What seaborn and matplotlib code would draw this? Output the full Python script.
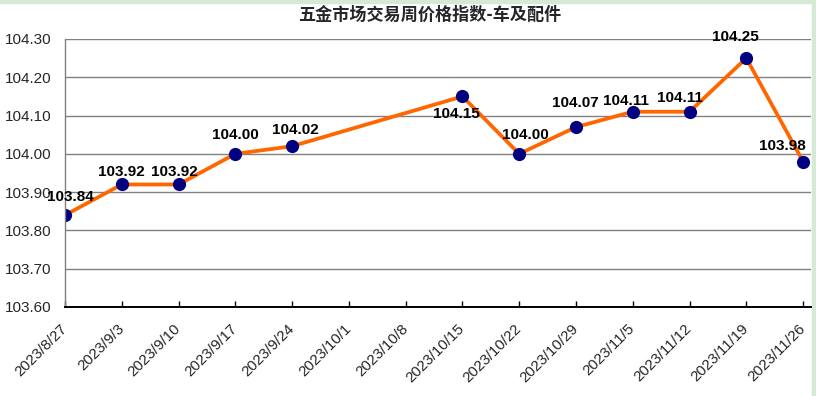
import numpy as np
import pandas as pd
import matplotlib
matplotlib.use('Agg')
import matplotlib.pyplot as plt
import matplotlib.transforms as mtransforms
from matplotlib.patches import Rectangle
import seaborn as sns

# --- data ---
title = '五金市场交易周价格指数-车及配件'
dates = ['2023/8/27', '2023/9/3', '2023/9/10', '2023/9/17', '2023/9/24',
         '2023/10/1', '2023/10/8', '2023/10/15', '2023/10/22', '2023/10/29',
         '2023/11/5', '2023/11/12', '2023/11/19', '2023/11/26']
values = [103.84, 103.92, 103.92, 104.00, 104.02, np.nan, np.nan,
          104.15, 104.00, 104.07, 104.11, 104.11, 104.25, 103.98]
y_ticks = [103.60, 103.70, 103.80, 103.90, 104.00, 104.10, 104.20, 104.30]

# label offsets (pixels) for each value label
label_offsets = [(5, 18), (0, 12), (-4, 12), (0, 19), (3, 16), None, None,
                 (-6, -18), (6, 19), (-1, 24), (-7, 11), (-10, 14), (-11, 21), (-21, 16)]

df = pd.DataFrame({'pos': np.arange(len(dates)), 'date': dates, 'value': values})

sns.set_style('white')
plt.rcParams['font.family'] = ['Liberation Sans', 'Noto Sans CJK SC', 'DejaVu Sans']

fig = plt.figure(figsize=(8.16, 3.96), dpi=100)
ax = fig.add_axes([65 / 816, 1 - 307 / 396, (811 - 65) / 816, (307 - 39) / 396])

sns.lineplot(data=df, x='pos', y='value', ax=ax, color='#FF6600', linewidth=2.7,
             marker='o', markersize=9.5, markerfacecolor='#000080',
             markeredgecolor='#000080', markeredgewidth=0)

for x, v, off in zip(df['pos'], df['value'], label_offsets):
    if np.isnan(v):
        continue
    ax.annotate(f'{v:.2f}', (x, v), xytext=off, textcoords='offset pixels',
                ha='center', va='center', fontsize=11, fontweight='bold',
                color='black')

ax.set_xlim(0, len(dates) - 1 + 0.14)
ax.set_ylim(y_ticks[0], y_ticks[-1])
ax.set_yticks(y_ticks)
ax.set_yticklabels([f'{t:.2f}' for t in y_ticks], fontsize=11)
ax.set_xticks(df['pos'])
ax.set_xticklabels(dates, rotation=45, ha='right', va='center',
                   rotation_mode='anchor', fontsize=10.9)
offset = mtransforms.ScaledTranslation(7 / 100, 0, fig.dpi_scale_trans)
for lbl in ax.get_xticklabels():
    lbl.set_transform(lbl.get_transform() + offset)

ax.grid(axis='y', color='#808080', linewidth=1.0)
ax.set_axisbelow(True)
ax.tick_params(axis='y', length=0, pad=10)
ax.tick_params(axis='x', direction='in', length=4.5, width=1, color='black', pad=14,
               bottom=True)
ax.spines['top'].set_visible(False)
ax.spines['right'].set_visible(False)
ax.spines['left'].set_color('#808080')
ax.spines['left'].set_linewidth(1)
ax.spines['bottom'].set_color('black')
ax.spines['bottom'].set_linewidth(1.4)
ax.set_xlabel('')
ax.set_ylabel('')

fig.text(430 / 816, 1 - 15 / 396, title, ha='center', va='center', fontsize=12.3,
         fontweight='bold', family=['Noto Sans CJK SC', 'DejaVu Sans'])

fig.add_artist(Rectangle((812 / 816, 0), 4 / 816, 1, transform=fig.transFigure,
                         color='#d5ead5', zorder=-1))
fig.add_artist(Rectangle((0, 1 - 3 / 396), 1, 3 / 396, transform=fig.transFigure,
                         color='#d5ead5', zorder=-1))

fig.savefig('out.png', dpi=100)
